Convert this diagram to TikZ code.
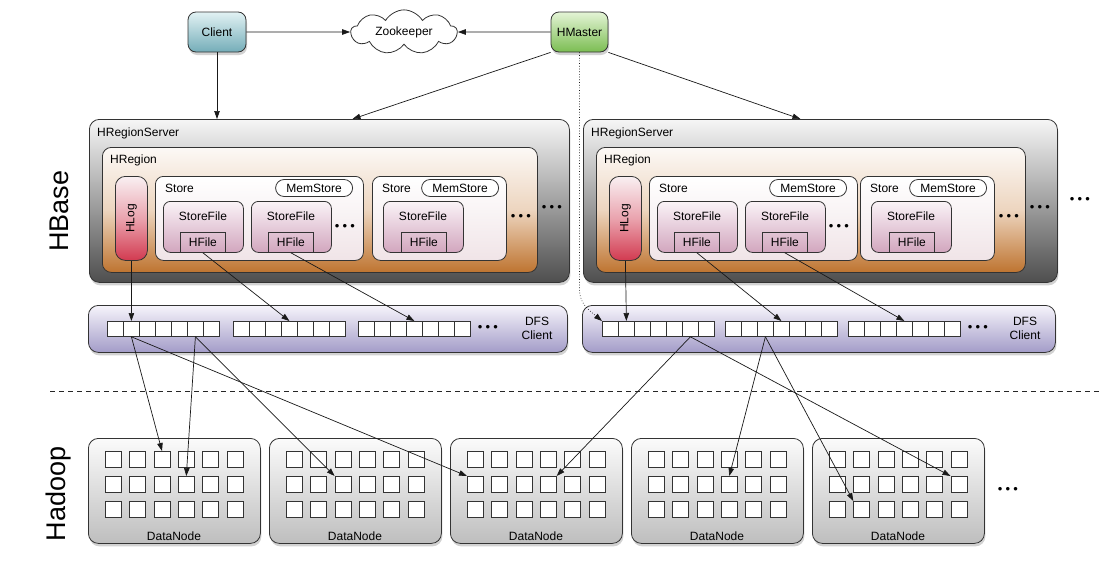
\documentclass[tikz,border=0pt]{standalone}
\usepackage{fontspec}
\setmainfont{Liberation Sans}
\usetikzlibrary{shapes.symbols,shadows,arrows.meta,calc}
\definecolor{clTop}{HTML}{E2F2F4}
\definecolor{clBot}{HTML}{74ADB8}
\definecolor{hmTop}{HTML}{E4F4D6}
\definecolor{hmBot}{HTML}{7BBD52}
\definecolor{hrsTop}{HTML}{F6F6F6}
\definecolor{hrsBot}{HTML}{4E4E4E}
\definecolor{hrgTop}{HTML}{FCF9F6}
\definecolor{hrgMid}{HTML}{EDD5BF}
\definecolor{hrgBot}{HTML}{BE7430}
\definecolor{hlTop}{HTML}{F9F0F2}
\definecolor{hlMid}{HTML}{EAA3AE}
\definecolor{hlBot}{HTML}{D23A50}
\definecolor{stTop}{HTML}{FFFFFF}
\definecolor{stBot}{HTML}{F0E4E7}
\definecolor{sfTop}{HTML}{FAF3F7}
\definecolor{sfBot}{HTML}{D2A6BE}
\definecolor{dfTop}{HTML}{F6F4FB}
\definecolor{dfBot}{HTML}{A39CC8}
\definecolor{dnTop}{HTML}{FBFBFB}
\definecolor{dnBot}{HTML}{BEBEBE}
\tikzset{
  lbl/.style={font=\fontsize{12}{14}\selectfont, inner sep=0pt},
  dots/.style={font=\fontsize{13}{13}\selectfont, inner sep=0pt},
  bxs/.style={draw=black!80, line width=0.8pt, inner sep=0pt},
  shad/.style={drop shadow={opacity=0.35, shadow xshift=1pt, shadow yshift=-3pt}},
  hrs/.style={bxs, shad, rounded corners=10pt, top color=hrsTop, bottom color=hrsBot},
  hreg/.style={bxs, rounded corners=9pt, top color=hrgTop, bottom color=hrgBot, middle color=hrgMid},
  hlog/.style={bxs, rounded corners=10pt, top color=hlTop, bottom color=hlBot, middle color=hlMid},
  store/.style={bxs, rounded corners=8pt, top color=stTop, bottom color=stBot},
  sfile/.style={bxs, rounded corners=7pt, top color=sfTop, bottom color=sfBot},
  hfbox/.style={bxs},
  mem/.style={bxs, fill=white, rounded corners=8.5pt, minimum width=77pt, minimum height=17pt, font=\fontsize{12}{14}\selectfont},
  dfs/.style={bxs, shad, rounded corners=10pt, top color=dfTop, bottom color=dfBot},
  dcell/.style={draw=black!80, fill=white, line width=0.8pt, inner sep=0pt, anchor=north west, minimum width=16pt, minimum height=15pt},
  dnbox/.style={bxs, shad, rounded corners=10pt, top color=dnTop, bottom color=dnBot},
  ncell/.style={draw=black!80, fill=white, line width=0.8pt, inner sep=0pt, anchor=north west, minimum width=16pt, minimum height=16pt},
  arr/.style={-{Triangle[length=8pt,width=5.5pt]}, line width=0.7pt, draw=black!90},
}
\newcommand\tdots{•\hspace{3.2pt}•\hspace{3.2pt}•}
\newcommand\rectnode[6]{\node[#1, anchor=north west, minimum width={(#5)*1pt}, minimum height={(#6)*1pt}] (#2) at (#3,#4) {};}
\newcommand\hserver[3]{%
  \rectnode{hrs}{#1-hrs}{89+#2}{119}{480+#3-#2}{163}
  \node[lbl,anchor=west] (#1-hrs-t) at (97+#2,133) {HRegionServer};
  \rectnode{hreg}{#1-hreg}{102+#2}{147}{435+#3-#2}{125}
  \node[lbl,anchor=west] (#1-hreg-t) at (110+#2,160) {HRegion};
  \rectnode{hlog}{#1-hlog}{115+#2}{176}{32}{84}
  \node[lbl,rotate=90] (#1-hlog-t) at (#1-hlog.center) {HLog};
  \rectnode{store}{#1-st1}{155+#2}{176}{208}{84}
  \node[lbl,anchor=west] (#1-st1-t) at (165+#2,188) {Store};
  \node[mem,anchor=east] (#1-m1) at (353+#2,188) {MemStore};
  \rectnode{sfile}{#1-sf1}{163+#2}{201}{80}{51}
  \node[lbl] (#1-sf1-t) at (203+#2,216) {StoreFile};
  \rectnode{hfbox}{#1-hf1}{180+#2}{232}{45}{20}
  \node[lbl] (#1-hf1-t) at (#1-hf1.center) {HFile};
  \rectnode{sfile}{#1-sf2}{251+#2}{201}{80}{51}
  \node[lbl] (#1-sf2-t) at (291+#2,216) {StoreFile};
  \rectnode{hfbox}{#1-hf2}{268+#2}{232}{45}{20}
  \node[lbl] (#1-hf2-t) at (#1-hf2.center) {HFile};
  \node[dots] (#1-dots1) at (345+#2,227) {\tdots};
  \rectnode{store}{#1-st2}{372+#3}{176}{134}{84}
  \node[lbl,anchor=west] (#1-st2-t) at (382+#3,188) {Store};
  \node[mem,anchor=east] (#1-m2) at (499+#3,188) {MemStore};
  \rectnode{sfile}{#1-sf3}{383+#3}{201}{80}{51}
  \node[lbl] (#1-sf3-t) at (423+#3,216) {StoreFile};
  \rectnode{hfbox}{#1-hf3}{401+#3}{232}{45}{20}
  \node[lbl] (#1-hf3-t) at (#1-hf3.center) {HFile};
  \node[dots] (#1-dots2) at (521+#3,217) {\tdots};
  \node[dots] (#1-dots3) at (552+#3,208) {\tdots};
}
\newcommand\dfsbox[7]{%
  \rectnode{dfs}{#1-dfs}{#2}{305}{#3}{47}
  \foreach \g/\gx in {1/#4,2/#5,3/#6}{%
    \foreach \c in {1,...,7}{\node[dcell] (#1-d-\g-\c) at ({\gx+16*(\c-1)},321) {};}}
  \node[dots] (#1-ddots) at (#6+130,328) {\tdots};
  \node[lbl,align=center] (#1-dfs-t) at (#7,328) {DFS\\Client};
}
\begin{document}
\begin{tikzpicture}[x=1pt,y=-1pt]
\fill[white] (0,0) rectangle (1108,560);
\useasboundingbox (0,0) rectangle (1108,560);

% side labels
\node[rotate=90, font=\fontsize{27}{30}\selectfont, inner sep=0pt] (hbase) at (59,211) {HBase};
\node[rotate=90, font=\fontsize{27}{30}\selectfont, inner sep=0pt] (hadoop) at (59,494) {Hadoop};

% top nodes
\node[bxs, shad, rounded corners=8pt, top color=clTop, bottom color=clBot, minimum width=58pt, minimum height=40pt, lbl] (client) at (217,32) {Client};
\node[bxs, shad, rounded corners=8pt, top color=hmTop, bottom color=hmBot, minimum width=57pt, minimum height=40pt, lbl] (hm) at (579.5,32) {HMaster};
\node[cloud, cloud puffs=9, cloud puff arc=120, aspect=2.7, draw=black!80, fill=white, line width=0.8pt, minimum width=106pt, minimum height=40pt, inner sep=0pt, font=\fontsize{12}{14}\selectfont] (zk) at (404,32) {Zookeeper};

% region servers
\hserver{L}{0}{0}
\hserver{R}{494}{488}
\node[dots] (Rdots-out) at (1080,200) {\tdots};

% DFS clients
\dfsbox{L}{88}{479}{107}{233}{358}{537}
\dfsbox{R}{582}{473}{602}{725}{848}{1025}

% separator
\coordinate (dashL) at (50,391);
\coordinate (dashR) at (1100,391);
\draw[line width=0.7pt, dash pattern=on 5pt off 4pt, black!85] (dashL) -- (dashR);

% data nodes
\foreach \i in {1,...,5}{%
  \pgfmathsetmacro{\dnx}{88+181*(\i-1)}
  \rectnode{dnbox}{dn\i}{\dnx}{438}{172}{105}
  \foreach \r in {1,2,3}{\foreach \c in {1,...,6}{%
    \node[ncell] (dn\i-\r-\c) at ({\dnx+17+24.3*(\c-1)},{451+25*(\r-1)}) {};}}
  \node[lbl] (dnl\i) at (\dnx+86,536) {DataNode};
}
\node[dots] (dndots) at (1008,490) {\tdots};

% top connectors
\draw[arr] (client.east) -- (zk.west);
\draw[arr] (hm.west) -- (zk.east);
\draw[arr] (client.south) -- (client.south |- L-hrs.north);
\coordinate (hrsLin) at ($(L-hrs.north west)!0.548!(L-hrs.north east)$);
\coordinate (hrsRin) at ($(R-hrs.north west)!0.458!(R-hrs.north east)$);
\draw[arr] (hm.south west) -- (hrsLin);
\draw[arr] (hm.south east) -- (hrsRin);
\coordinate (dbend) at (hm.south |- 0,290);
\draw[arr, dotted] (hm.south) -- (dbend) .. controls +(0,14) and +(-12,-10) .. (R-d-1-1.north west);

% server to DFS
\foreach \s in {L,R}{%
  \draw[arr] (\s-hlog.south) -- (\s-d-1-2.north);
  \draw[arr] (\s-hf1.south) -- (\s-d-2-4.north);
  \draw[arr] (\s-hf2.south) -- (\s-d-3-4.north);
}

% DFS to data nodes
\draw[arr] (L-d-1-2.south) -- (dn1-1-3.north);
\draw[arr] (L-d-1-2.south) -- (dn3-2-1.north west);
\draw[arr] (L-d-1-6.south) -- (dn1-2-4.north);
\draw[arr] (L-d-1-6.south) -- (dn2-2-3.north west);
\draw[arr] (R-d-1-6.south) -- (dn3-2-4.north east);
\draw[arr] (R-d-1-6.south) -- (dn5-2-6.north west);
\draw[arr] (R-d-2-3.south) -- (dn4-2-4.north);
\draw[arr] (R-d-2-3.south) -- (dn5-3-2.north west);
\end{tikzpicture}
\end{document}
